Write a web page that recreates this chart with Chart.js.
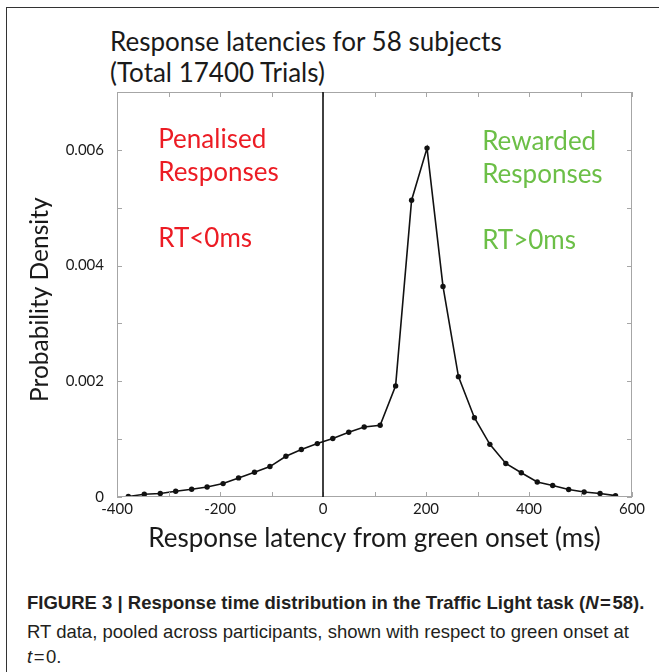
<!DOCTYPE html>
<html lang="en">
<head>
<meta charset="UTF-8">
<title>Response latencies for 58 subjects</title>
<script src="https://cdn.jsdelivr.net/npm/chart.js"></script>
<style>
body { margin: 0; background: #fff; }
#figure { position: relative; width: 659px; height: 672px; overflow: hidden; background: #fff; }
#frame { position: absolute; left: 6px; top: 7px; width: 700px; height: 700px; border-top: 1.5px solid #333; border-left: 1.5px solid #333; }
#chartBox { position: absolute; left: 0; top: 0; width: 659px; height: 580px; }
.title { position: absolute; left: 110px; font-family: 'Lato', sans-serif; font-size: 26px; color: #1a1a1a; white-space: nowrap; }
.caption { position: absolute; left: 27px; font-family: 'Liberation Sans', Arial, sans-serif; font-size: 18.5px; color: #231f20; white-space: nowrap; }
.caption.bold { font-weight: bold; }
</style>
</head>
<body>
<div id="figure">
  <div id="frame"></div>
  <div class="title" style="top:25px">Response latencies for 58 subjects</div>
  <div class="title" style="top:56px">(Total 17400 Trials)</div>
  <div id="chartBox"><canvas id="myChart" width="659" height="580"></canvas></div>
  <div class="caption bold" style="top:592px">FIGURE 3 | Response time distribution in the Traffic Light task (<i>N</i>&#8202;=&#8202;58).</div>
  <div class="caption" style="top:621px">RT data, pooled across participants, shown with respect to green onset at</div>
  <div class="caption" style="top:646px"><i>t</i>&#8202;=&#8202;0.</div>
</div>

<script>
// bin centres (ms) and probability density
const latencyMs = [-378, -347, -316, -286, -255, -225, -194, -164, -133, -103, -72, -42, -11, 19, 50, 80,
                   111, 141, 172, 202, 233, 263, 294, 324, 355, 385, 416, 446, 477, 507, 538, 568];
const density = [0.00001, 0.000047, 0.00006, 0.0001, 0.000133, 0.000173, 0.000232, 0.00033, 0.000427, 0.000526,
                 0.000704, 0.00082, 0.000923, 0.00101, 0.00112, 0.00121, 0.00124, 0.00192, 0.00513, 0.00603,
                 0.00364, 0.00208, 0.00137, 0.00091, 0.00058, 0.00042, 0.00026, 0.0002, 0.00013, 0.000087,
                 0.00006, 0.000024];

const xTickValues = [-400, -200, 0, 200, 400, 600];
const xTickLabels = ['-400', '-200', '0', '200', '400', '600'];
const yTickValues = [0, 0.002, 0.004, 0.006];
const yTickLabels = ['0', '0.002', '0.004', '0.006'];

const yTitle = 'Probability Density';
const penalisedText = ['Penalised', 'Responses', '', 'RT<0ms'];
const rewardedText = ['Rewarded', 'Responses', '', 'RT>0ms'];

function findLabel(values, labels, v) {
    for (let i = 0; i < values.length; i++) {
        if (Math.abs(values[i] - v) < 1e-9) return labels[i];
    }
    return '';
}

// box, inward ticks, the t=0 line, y title and the two text blocks
const framePlugin = {
    id: 'frame',
    afterDraw(chart) {
        const ctx = chart.ctx;
        const a = chart.chartArea;
        const xs = chart.scales.x, ys = chart.scales.y;
        ctx.save();
        ctx.strokeStyle = '#a6a6a6';
        ctx.lineWidth = 1;
        ctx.strokeRect(a.left + 0.5, a.top + 0.5, a.right - a.left - 1, a.bottom - a.top - 1);
        ctx.beginPath();
        xs.ticks.forEach(t => {
            const px = Math.round(xs.getPixelForValue(t.value)) + 0.5;
            ctx.moveTo(px, a.bottom); ctx.lineTo(px, a.bottom - 5);
            ctx.moveTo(px, a.top); ctx.lineTo(px, a.top + 5);
        });
        ys.ticks.forEach(t => {
            const py = Math.round(ys.getPixelForValue(t.value)) + 0.5;
            ctx.moveTo(a.left, py); ctx.lineTo(a.left + 5, py);
            ctx.moveTo(a.right, py); ctx.lineTo(a.right - 5, py);
        });
        ctx.stroke();

        // vertical line at green onset
        const x0 = xs.getPixelForValue(0);
        ctx.strokeStyle = '#111';
        ctx.lineWidth = 1.6;
        ctx.beginPath();
        ctx.moveTo(x0, a.top); ctx.lineTo(x0, a.bottom);
        ctx.stroke();

        // y axis title, sits a little below the middle of the axis
        ctx.save();
        ctx.translate(40, ys.getPixelForValue(0.00341));
        ctx.rotate(-Math.PI / 2);
        ctx.font = '24.5px Lato, sans-serif';
        ctx.fillStyle = '#1a1a1a';
        ctx.textAlign = 'center';
        ctx.textBaseline = 'middle';
        ctx.fillText(yTitle, 0, 0);
        ctx.restore();

        ctx.font = '26px Lato, sans-serif';
        ctx.textBaseline = 'alphabetic';
        ctx.textAlign = 'left';
        const baseY = ys.getPixelForValue(0.00604);
        const gaps = [0, 33, 0, 99];
        ctx.fillStyle = '#ec1c24';
        penalisedText.forEach((s, i) => { if (s) ctx.fillText(s, xs.getPixelForValue(-320), baseY + gaps[i]); });
        ctx.fillStyle = '#6cbf47';
        rewardedText.forEach((s, i) => { if (s) ctx.fillText(s, xs.getPixelForValue(309), baseY + 2 + gaps[i]); });
        ctx.restore();
    }
};

const ctx = document.getElementById('myChart').getContext('2d');
const myChart = new Chart(ctx, {
    type: 'line',
    data: {
        datasets: [{
            data: latencyMs.map((x, i) => ({ x: x, y: density[i] })),
            borderColor: '#111',
            borderWidth: 1.6,
            pointRadius: 2.7,
            pointBackgroundColor: '#111',
            pointBorderWidth: 0,
            tension: 0
        }]
    },
    options: {
        responsive: false,
        animation: false,
        devicePixelRatio: 1,
        layout: { padding: { left: 0, top: 92, right: 27, bottom: 0 } },
        plugins: { legend: { display: false }, tooltip: { enabled: false } },
        scales: {
            x: {
                type: 'linear',
                min: -400,
                max: 600,
                grid: { display: false, drawTicks: false },
                border: { display: false },
                ticks: {
                    stepSize: 100,
                    autoSkip: false,
                    maxRotation: 0,
                    padding: 3,
                    color: '#1a1a1a',
                    font: { family: 'Lato', size: 15 },
                    callback: v => findLabel(xTickValues, xTickLabels, v)
                },
                title: {
                    display: true,
                    text: 'Response latency from green onset (ms)',
                    color: '#1a1a1a',
                    font: { family: 'Lato', size: 26 },
                    padding: { top: 0, bottom: 26 }
                },
                afterFit: s => { s.height = 83; }
            },
            y: {
                min: 0,
                max: 0.007,
                grid: { display: false, drawTicks: false },
                border: { display: false },
                ticks: {
                    stepSize: 0.001,
                    padding: 13,
                    color: '#1a1a1a',
                    font: { family: 'Lato', size: 15 },
                    callback: v => findLabel(yTickValues, yTickLabels, v)
                },
                afterFit: s => { s.width = 117; }
            }
        }
    },
    plugins: [framePlugin]
});
</script>
</body>
</html>
